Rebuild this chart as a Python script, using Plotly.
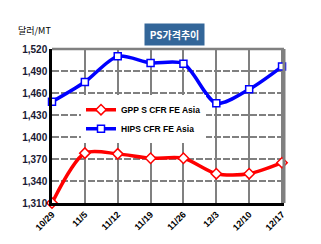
import plotly.graph_objects as go

dates = ["10/29", "11/5", "11/12", "11/19", "11/26", "12/3", "12/10", "12/17"]
gpps = [1310, 1378, 1377, 1371, 1371, 1350, 1350, 1365]
hips = [1448, 1475, 1510, 1501, 1500, 1446, 1465, 1496]
yticks = [1310, 1340, 1370, 1400, 1430, 1460, 1490, 1520]

xs = list(range(len(dates)))
fig = go.Figure()
fig.add_trace(go.Scatter(
    x=xs, y=gpps, name="<b>GPP S CFR FE Asia</b>", mode="lines+markers",
    line=dict(color="#ff0000", width=3.5, shape="spline", smoothing=0.8),
    marker=dict(symbol="diamond", size=8, color="white", line=dict(color="#ff0000", width=1.5)),
    cliponaxis=False))
fig.add_trace(go.Scatter(
    x=xs, y=hips, name="<b>HIPS CFR FE Asia</b>", mode="lines+markers",
    line=dict(color="#0000ff", width=3.5, shape="spline", smoothing=0.8),
    marker=dict(symbol="square", size=7, color="white", line=dict(color="#0000ff", width=1.5)),
    cliponaxis=False))

font = "Liberation Sans"
fig.update_layout(
    width=321, height=244,
    margin=dict(l=52, r=37, t=49, b=41),
    paper_bgcolor="white", plot_bgcolor="white",
    showlegend=True,
    legend=dict(x=0.125, y=0.70, xanchor="left", yanchor="top",
                bgcolor="white", font=dict(family=font, size=8.5, color="black"),
                itemwidth=30, tracegroupgap=4),
    xaxis=dict(tickmode="array", tickvals=xs, ticktext=[f"<b>{d}</b>" for d in dates],
               range=[0, 7.06],
               showgrid=True, gridcolor="#808080", gridwidth=1.5,
               showline=True, linecolor="black", linewidth=2.5,
               tickangle=-45, ticks="", zeroline=False,
               tickfont=dict(family=font, size=9, color="black")),
    yaxis=dict(range=[1310, 1520], tickvals=yticks,
               ticktext=[f"<b>{v:,}</b>" for v in yticks],
               showgrid=True, gridcolor="#808080", gridwidth=2, griddash="7px,2px",
               showline=True, linecolor="black", linewidth=2.5, ticks="",
               zeroline=False,
               tickfont=dict(family=font, size=10, color="#1a1a33")),
    shapes=[dict(type="line", xref="paper", yref="paper", x0=0, x1=1, y0=1, y1=1,
                 line=dict(color="#808080", width=2.5)),
            dict(type="line", xref="paper", yref="paper", x0=1, x1=1, y0=0, y1=1,
                 line=dict(color="#808080", width=3))],
    annotations=[
        dict(text="<b>PS가격추이</b>", xref="paper", yref="paper",
             x=(174 - 52) / 232, y=(203 - 23) / 154, showarrow=False,
             bgcolor="#336699", font=dict(family="Noto Sans CJK KR", size=10, color="white"),
             width=57, height=19),
        dict(text="달러/MT", xref="paper", yref="paper",
             x=(16 - 52) / 232, y=(203 - 22) / 154, xanchor="left", showarrow=False,
             font=dict(family="Noto Sans CJK KR", size=9, color="black")),
    ],
)
fig.write_html("out.html")
